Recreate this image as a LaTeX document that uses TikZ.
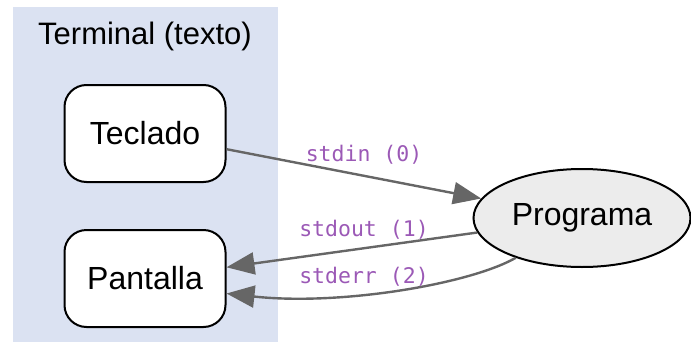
\documentclass[tikz,border=0pt]{standalone}
\usepackage{fontspec}
\setmainfont{Liberation Sans}
\newfontfamily\labelmono{DejaVu Sans Mono}
\usetikzlibrary{shapes.geometric,arrows.meta,calc}
\definecolor{clusterbg}{RGB}{219,226,242}
\definecolor{edgegray}{RGB}{102,102,102}
\definecolor{labelpurple}{RGB}{155,89,182}
\definecolor{progfill}{RGB}{236,236,236}
\tikzset{
  box/.style={draw=black, line width=2pt, fill=white, rounded corners=22pt,
    minimum width=161pt, minimum height=97pt, inner sep=0pt,
    font=\fontsize{32}{36}\selectfont},
  prognode/.style={draw=black, line width=2pt, fill=progfill, ellipse,
    minimum width=217pt, minimum height=98pt, inner sep=0pt,
    font=\fontsize{32}{36}\selectfont},
  conn/.style={draw=edgegray, line width=2.4pt, -{Triangle[length=28pt,width=22pt]}},
  elabel/.style={text=labelpurple, font=\labelmono\fontsize{21.5}{24}\selectfont}
}
\begin{document}
\begin{tikzpicture}[x=1pt,y=-1pt]
\useasboundingbox (0,0) rectangle (691,343);
\fill[clusterbg] (13,7) rectangle (278,342);
\node[font=\fontsize{31}{36}\selectfont] (title) at (145,36) {Terminal (texto)};
\node[box] (tec) at (145,133.5) {Teclado};
\node[box] (pan) at (145,278.5) {Pantalla};
\node[prognode] (prog) at (582,218) {Programa};
\draw[conn] (tec) -- (prog);
\draw[conn] (prog) -- (pan);
\draw[conn] (prog.211) .. controls (470,284) and (340,306) .. ($(pan.east)+(0,15)$);
\node[elabel] (l0) at (364,155) {stdin (0)};
\node[elabel] (l1) at (364,230) {stdout (1)};
\node[elabel] (l2) at (364,277) {stderr (2)};
\end{tikzpicture}
\end{document}
